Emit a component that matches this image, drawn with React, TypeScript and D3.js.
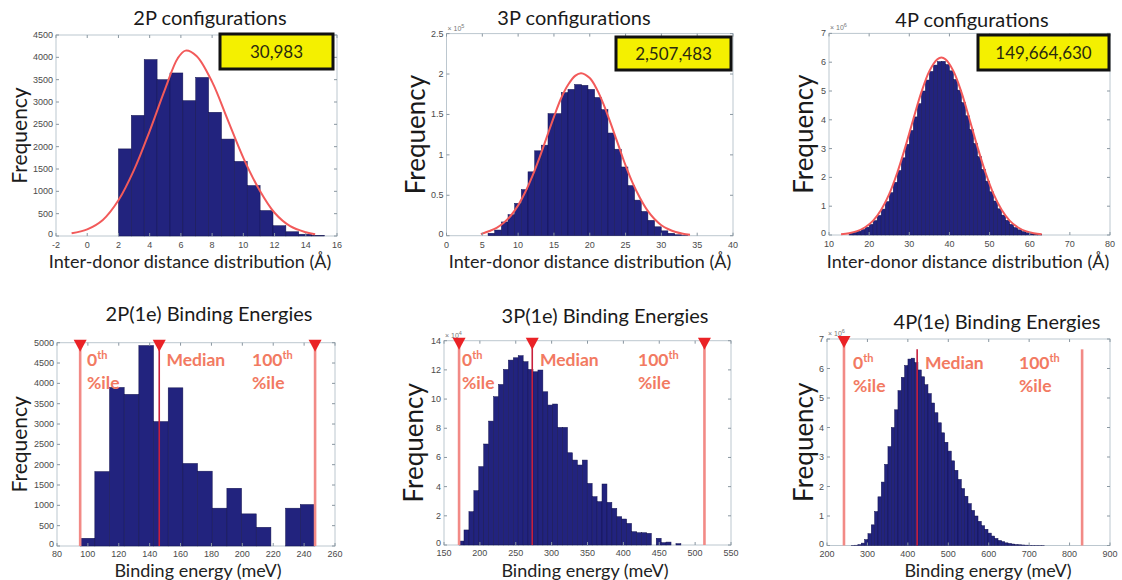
import React from 'react';
import * as d3 from 'd3';

const W = 1122;
const H = 580;

// ---------- 2P inter-donor distance histogram ----------
const dist2PBinStart = 2;
const dist2PBinWidth = 0.825;
const dist2PCounts = [1950, 2700, 3950, 3500, 3650, 3030, 3550, 2770, 2170, 1670, 1130, 570, 230, 95, 40, 12];
const dist2PFit: [number, number][] = [
  [-1, 60], [0, 150], [1, 360], [2, 800], [3, 1480], [4, 2350], [5, 3300], [5.8, 3980], [6.3, 4150],
  [7, 4030], [8, 3450], [9, 2600], [10, 1750], [11, 1050], [12, 520], [13, 220], [14, 85], [14.6, 40],
];
const dist2PXTicks = [-2, 0, 2, 4, 6, 8, 10, 12, 14, 16];
const dist2PYTicks = [0, 500, 1000, 1500, 2000, 2500, 3000, 3500, 4000, 4500];
const total2P = '30,983';

// ---------- 3P inter-donor distance histogram (x 10^5) ----------
const dist3PBinStart = 5.8;
const dist3PBinWidth = 0.93;
const dist3PCounts = [
  0.03, 0.07, 0.17, 0.26, 0.40, 0.57, 0.79, 1.05, 1.12, 1.51, 1.51, 1.77, 1.81, 1.87, 1.86,
  1.81, 1.71, 1.56, 1.27, 1.07, 0.85, 0.62, 0.44, 0.30, 0.19, 0.11, 0.06, 0.03, 0.012, 0.004,
];
const dist3PFit: [number, number][] = [
  [4.8, 0.02], [6, 0.058], [7, 0.098], [8, 0.16], [9, 0.25], [10, 0.375], [11, 0.54], [12, 0.74],
  [13, 0.97], [14, 1.22], [15, 1.47], [16, 1.7], [17, 1.87], [18, 1.98], [18.8, 2.01], [20, 1.95],
  [21, 1.81], [22, 1.61], [23, 1.37], [24, 1.12], [25, 0.87], [26, 0.65], [27, 0.47], [28, 0.32],
  [29, 0.21], [30, 0.13], [31, 0.08], [32, 0.046], [33, 0.025], [34, 0.013],
];
const dist3PXTicks = [0, 5, 10, 15, 20, 25, 30, 35, 40];
const dist3PYTicks = [0, 0.5, 1, 1.5, 2, 2.5];
const total3P = '2,507,483';

// ---------- 4P inter-donor distance histogram (x 10^6) ----------
const dist4PBinStart = 15;
const dist4PBinWidth = 1;
const dist4PCounts = [
  0.06, 0.09, 0.13, 0.19, 0.27, 0.37, 0.5, 0.68, 0.9, 1.16, 1.47, 1.83, 2.24, 2.68, 3.15, 3.63,
  4.1, 4.56, 5.0, 5.38, 5.68, 5.9, 6.02, 6.03, 5.92, 5.7, 5.4, 5.03, 4.6, 4.14, 3.66, 3.18,
  2.72, 2.28, 1.87, 1.5, 1.18, 0.91, 0.69, 0.51, 0.37, 0.26, 0.18, 0.12, 0.08, 0.05, 0.03, 0.02,
];
const dist4PFit: [number, number][] = [
  [13, 0.027], [15, 0.063], [17, 0.135], [19, 0.27], [21, 0.5], [23, 0.88], [25, 1.42], [27, 2.16],
  [29, 3.05], [31, 4.02], [33, 4.95], [35, 5.69], [37, 6.1], [38, 6.16], [39, 6.1], [41, 5.69],
  [43, 4.95], [45, 4.02], [47, 3.05], [49, 2.16], [51, 1.42], [53, 0.88], [55, 0.5], [57, 0.27],
  [59, 0.135], [61, 0.063], [63, 0.027],
];
const dist4PXTicks = [10, 20, 30, 40, 50, 60, 70, 80];
const dist4PYTicks = [0, 1, 2, 3, 4, 5, 6, 7];
const total4P = '149,664,630';

// ---------- 2P(1e) binding energies ----------
const bind2PBinStart = 95;
const bind2PBinWidth = 9.5;
const bind2PCounts = [190, 1830, 3900, 3730, 4930, 3060, 3890, 2030, 1840, 930, 1420, 790, 460, 0, 930, 1020];
const bind2PPercentiles = [95, 146.2, 247.1];
const bind2PXTicks = [80, 100, 120, 140, 160, 180, 200, 220, 240, 260];
const bind2PYTicks = [0, 500, 1000, 1500, 2000, 2500, 3000, 3500, 4000, 4500, 5000];

// ---------- 3P(1e) binding energies (x 10^4) ----------
const bind3PBinStart = 171;
const bind3PBinWidth = 6.87;
const bind3PCounts = [
  0.27, 1.03, 2.28, 3.72, 5.37, 6.92, 8.49, 10.16, 11.0, 12.03, 12.67, 12.83, 12.97, 12.56, 12.03,
  11.87, 11.99, 10.5, 9.59, 9.66, 8.06, 8.06, 6.32, 5.82, 5.48, 5.82, 4.22, 3.31, 2.97, 4.18,
  2.92, 2.51, 1.94, 1.78, 1.48, 0.91, 0.84, 0.84, 0.8, 0, 0.46, 0.16, 0.2, 0, 0.09,
];
const bind3PPercentiles = [171, 273, 513];
const bind3PXTicks = [150, 200, 250, 300, 350, 400, 450, 500, 550];
const bind3PYTicks = [0, 2, 4, 6, 8, 10, 12, 14];

// ---------- 4P(1e) binding energies (x 10^6) ----------
const bind4PBinStart = 260;
const bind4PBinWidth = 8.25;
const bind4PCounts = [
  0.005, 0.01, 0.03, 0.08, 0.2, 0.4, 0.7, 1.15, 1.65, 2.15, 2.75, 3.35, 4.0, 4.6, 5.25, 5.7,
  6.1, 6.32, 6.35, 6.2, 5.95, 5.72, 5.45, 5.15, 4.83, 4.5, 4.16, 3.82, 3.5, 3.2, 2.87, 2.55,
  2.24, 1.93, 1.67, 1.42, 1.19, 1.0, 0.82, 0.67, 0.55, 0.42, 0.32, 0.24, 0.17, 0.13, 0.09, 0.07,
  0.05, 0.035, 0.025, 0.018, 0.012, 0.008, 0.005, 0.003, 0.002, 0.001,
];
const bind4PPercentiles = [242, 423, 831];
const bind4PXTicks = [200, 300, 400, 500, 600, 700, 800, 900];
const bind4PYTicks = [0, 1, 2, 3, 4, 5, 6, 7];

// ---------- styling ----------
const BAR_FILL = '#22237e';
const BAR_EDGE = '#12124e';
const FIT_RED = '#f25a5a';
const EDGE_LINE = '#f28a86';
const MEDIAN_LINE = '#c8203c';
const MARKER_RED = '#ea2226';
const NOTE_COLOR = '#f27a62';
const AXIS_COLOR = '#bcc7cf';
const TICK_TEXT = '#4a4a4a';
const UI_FONT = 'Lato, "Open Sans", sans-serif';
const TICK_FONT = '"Liberation Sans", Arial, sans-serif';

type Box = { left: number; right: number; top: number; bottom: number };

interface PercentileSpec {
  values: number[];
  triangles: boolean[];
  startValues: (number | null)[];
  labels: { x: number; y: number; main: string; sup?: string; second?: string }[];
}

interface PanelSpec {
  title: string;
  titleX: number;
  titleY: number;
  xLabel: string;
  xLabelX: number;
  xLabelY: number;
  xLabelSize: number;
  yLabelX: number;
  yLabelSize: number;
  box: Box;
  xDomain: [number, number];
  yDomain: [number, number];
  xTicks: number[];
  yTicks: number[];
  tickGap: number;
  exponent?: string;
  binStart: number;
  binWidth: number;
  counts: number[];
  fit?: [number, number][];
  total?: { text: string; box: Box };
  percentiles?: PercentileSpec;
}

const panels: PanelSpec[] = [
  {
    title: '2P configurations', titleX: 210, titleY: 25,
    xLabel: 'Inter-donor distance distribution (Å)', xLabelX: 190, xLabelY: 268, xLabelSize: 18,
    yLabelX: 18, yLabelSize: 21,
    box: { left: 56, right: 337, top: 35, bottom: 236 },
    xDomain: [-2, 16], yDomain: [0, 4500],
    xTicks: dist2PXTicks, yTicks: dist2PYTicks, tickGap: 12,
    binStart: dist2PBinStart, binWidth: dist2PBinWidth, counts: dist2PCounts,
    fit: dist2PFit,
    total: { text: total2P, box: { left: 220, right: 333, top: 34, bottom: 69 } },
  },
  {
    title: '3P configurations', titleX: 574, titleY: 25,
    xLabel: 'Inter-donor distance distribution (Å)', xLabelX: 590, xLabelY: 268, xLabelSize: 18,
    yLabelX: 415, yLabelSize: 26,
    box: { left: 446.5, right: 733, top: 33.6, bottom: 235.7 },
    xDomain: [0, 40], yDomain: [0, 2.5],
    xTicks: dist3PXTicks, yTicks: dist3PYTicks, tickGap: 12, exponent: '5',
    binStart: dist3PBinStart, binWidth: dist3PBinWidth, counts: dist3PCounts,
    fit: dist3PFit,
    total: { text: total3P, box: { left: 616, right: 731, top: 37, bottom: 70 } },
  },
  {
    title: '4P configurations', titleX: 972, titleY: 27,
    xLabel: 'Inter-donor distance distribution (Å)', xLabelX: 968, xLabelY: 268, xLabelSize: 18,
    yLabelX: 803, yLabelSize: 26,
    box: { left: 829, right: 1110, top: 33.4, bottom: 235 },
    xDomain: [10, 80], yDomain: [0, 7],
    xTicks: dist4PXTicks, yTicks: dist4PYTicks, tickGap: 12, exponent: '6',
    binStart: dist4PBinStart, binWidth: dist4PBinWidth, counts: dist4PCounts,
    fit: dist4PFit,
    total: { text: total4P, box: { left: 978, right: 1109, top: 35, bottom: 70 } },
  },
  {
    title: '2P(1e) Binding Energies', titleX: 209, titleY: 321,
    xLabel: 'Binding energy (meV)', xLabelX: 198, xLabelY: 577, xLabelSize: 18,
    yLabelX: 18, yLabelSize: 21,
    box: { left: 57, right: 335, top: 342.7, bottom: 546 },
    xDomain: [80, 260], yDomain: [0, 5000],
    xTicks: bind2PXTicks, yTicks: bind2PYTicks, tickGap: 11,
    binStart: bind2PBinStart, binWidth: bind2PBinWidth, counts: bind2PCounts,
    percentiles: {
      values: bind2PPercentiles,
      triangles: [true, true, true],
      startValues: [null, null, null],
      labels: [
        { x: 87, y: 366, main: '0', sup: 'th', second: '%ile' },
        { x: 166.5, y: 366, main: 'Median' },
        { x: 252, y: 366, main: '100', sup: 'th', second: '%ile' },
      ],
    },
  },
  {
    title: '3P(1e) Binding Energies', titleX: 605, titleY: 323,
    xLabel: 'Binding energy (meV)', xLabelX: 585, xLabelY: 577, xLabelSize: 18,
    yLabelX: 413, yLabelSize: 26,
    box: { left: 444, right: 731, top: 340.7, bottom: 545 },
    xDomain: [150, 550], yDomain: [0, 14],
    xTicks: bind3PXTicks, yTicks: bind3PYTicks, tickGap: 11, exponent: '4',
    binStart: bind3PBinStart, binWidth: bind3PBinWidth, counts: bind3PCounts,
    percentiles: {
      values: bind3PPercentiles,
      triangles: [true, true, true],
      startValues: [null, null, null],
      labels: [
        { x: 462, y: 366, main: '0', sup: 'th', second: '%ile' },
        { x: 540, y: 366, main: 'Median' },
        { x: 638, y: 366, main: '100', sup: 'th', second: '%ile' },
      ],
    },
  },
  {
    title: '4P(1e) Binding Energies', titleX: 997, titleY: 329,
    xLabel: 'Binding energy (meV)', xLabelX: 988, xLabelY: 577, xLabelSize: 18,
    yLabelX: 803, yLabelSize: 26,
    box: { left: 827, right: 1110, top: 339, bottom: 545.5 },
    xDomain: [200, 900], yDomain: [0, 7],
    xTicks: bind4PXTicks, yTicks: bind4PYTicks, tickGap: 11, exponent: '6',
    binStart: bind4PBinStart, binWidth: bind4PBinWidth, counts: bind4PCounts,
    percentiles: {
      values: bind4PPercentiles,
      triangles: [true, false, false],
      startValues: [null, 6.65, 6.65],
      labels: [
        { x: 853, y: 369, main: '0', sup: 'th', second: '%ile' },
        { x: 925, y: 369, main: 'Median' },
        { x: 1019, y: 369, main: '100', sup: 'th', second: '%ile' },
      ],
    },
  },
];

function Panel({ spec }: { spec: PanelSpec }) {
  const { box } = spec;
  const x = d3.scaleLinear().domain(spec.xDomain).range([box.left, box.right]);
  const y = d3.scaleLinear().domain(spec.yDomain).range([box.bottom, box.top]);
  const tickLen = 3;

  const bars = spec.counts.map((c, i) => {
    const x0 = spec.binStart + i * spec.binWidth;
    return { x0, x1: x0 + spec.binWidth, c };
  });

  const fitPath = spec.fit
    ? d3.line<[number, number]>()
        .x((d) => x(d[0]))
        .y((d) => y(d[1]))
        .curve(d3.curveCatmullRom.alpha(0.5))(spec.fit)
    : null;

  const yMax = spec.yDomain[1];

  return (
    <g>
      {/* axes frame */}
      <rect x={box.left} y={box.top} width={box.right - box.left} height={box.bottom - box.top}
        fill="#fff" stroke={AXIS_COLOR} strokeWidth={1} />

      {/* histogram bars */}
      {bars.filter((b) => b.c > 0).map((b, i) => (
        <rect key={i} x={x(b.x0)} y={y(b.c)} width={x(b.x1) - x(b.x0)} height={y(0) - y(b.c)}
          fill={BAR_FILL} stroke={BAR_EDGE} strokeWidth={0.5} />
      ))}

      {/* fitted normal curve */}
      {fitPath && <path d={fitPath} fill="none" stroke={FIT_RED} strokeWidth={2} />}

      {/* ticks on all four sides */}
      {spec.xTicks.map((t) => (
        <g key={'xt' + t}>
          <line x1={x(t)} x2={x(t)} y1={box.bottom} y2={box.bottom - tickLen} stroke="#8a97a1" strokeWidth={1} />
          <line x1={x(t)} x2={x(t)} y1={box.top} y2={box.top + tickLen} stroke="#8a97a1" strokeWidth={1} />
          <text x={x(t)} y={box.bottom + spec.tickGap} textAnchor="middle" fontFamily={TICK_FONT} fontSize={9}
            fill={TICK_TEXT}>{t}</text>
        </g>
      ))}
      {spec.yTicks.map((t) => (
        <g key={'yt' + t}>
          <line x1={box.left} x2={box.left + tickLen} y1={y(t)} y2={y(t)} stroke="#8a97a1" strokeWidth={1} />
          <line x1={box.right} x2={box.right - tickLen} y1={y(t)} y2={y(t)} stroke="#8a97a1" strokeWidth={1} />
          <text x={box.left - 3} y={y(t) + (t === spec.yDomain[0] ? 1 : 3)} textAnchor="end"
            fontFamily={TICK_FONT} fontSize={9} fill={TICK_TEXT}>{t}</text>
        </g>
      ))}
      {spec.exponent && (
        <text x={box.left + 1} y={box.top - 3} fontFamily={TICK_FONT} fontSize={7} fill="#777">
          × 10<tspan dy={-3} fontSize={5.5}>{spec.exponent}</tspan>
        </text>
      )}

      {/* percentile markers */}
      {spec.percentiles && spec.percentiles.values.map((v, i) => {
        const p = spec.percentiles!;
        const isMedian = i === 1;
        const start = p.startValues[i];
        const yTop = start === null ? y(yMax) : y(start);
        const cx = x(v);
        return (
          <g key={'p' + i}>
            <line x1={cx} x2={cx} y1={yTop} y2={y(0)}
              stroke={isMedian ? MEDIAN_LINE : EDGE_LINE} strokeWidth={isMedian ? 1.6 : 2.6} />
            {p.triangles[i] && (
              <path d={`M${cx - 6.5},${y(yMax) - 3} L${cx + 6.5},${y(yMax) - 3} L${cx},${y(yMax) + 9} Z`}
                fill={MARKER_RED} />
            )}
          </g>
        );
      })}
      {spec.percentiles && spec.percentiles.labels.map((l, i) => (
        <g key={'pl' + i} fontFamily={UI_FONT} fill={NOTE_COLOR} fontSize={17.5} fontWeight={700}>
          <text x={l.x} y={l.y}>
            {l.main}
            {l.sup && <tspan dy={-7} fontSize={11}>{l.sup}</tspan>}
          </text>
          {l.second && <text x={l.x} y={l.y + 23}>{l.second}</text>}
        </g>
      ))}

      {/* total-count badge */}
      {spec.total && (
        <g>
          <rect x={spec.total.box.left} y={spec.total.box.top}
            width={spec.total.box.right - spec.total.box.left}
            height={spec.total.box.bottom - spec.total.box.top}
            fill="#f4f000" stroke="#111" strokeWidth={3} />
          <text x={(spec.total.box.left + spec.total.box.right) / 2}
            y={(spec.total.box.top + spec.total.box.bottom) / 2 + 6}
            textAnchor="middle" fontFamily={UI_FONT} fontSize={17} fill="#2a2a10">{spec.total.text}</text>
        </g>
      )}

      {/* titles and axis labels */}
      <text x={spec.titleX} y={spec.titleY} textAnchor="middle" fontFamily={UI_FONT} fontSize={20}
        fill="#1a1a1a">{spec.title}</text>
      <text x={spec.xLabelX} y={spec.xLabelY} textAnchor="middle" fontFamily={UI_FONT}
        fontSize={spec.xLabelSize} fill="#222">{spec.xLabel}</text>
      <text transform={`translate(${spec.yLabelX},${(box.top + box.bottom) / 2}) rotate(-90)`}
        textAnchor="middle" dominantBaseline="central" fontFamily={UI_FONT}
        fontSize={spec.yLabelSize} fill="#1a1a1a">Frequency</text>
    </g>
  );
}

export default function App() {
  return (
    <svg width={W} height={H} viewBox={`0 0 ${W} ${H}`}
      style={{ position: 'absolute', left: 0, top: 0, background: '#fff' }}>
      <rect width={W} height={H} fill="#fff" />
      {panels.map((p, i) => <Panel key={i} spec={p} />)}
    </svg>
  );
}
